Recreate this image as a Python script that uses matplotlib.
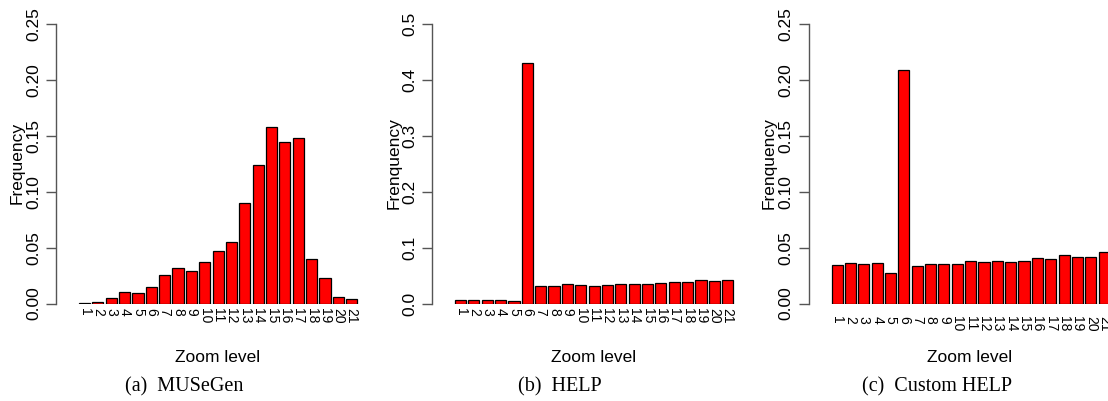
import matplotlib
matplotlib.use("Agg")
import matplotlib.pyplot as plt
import numpy as np

plt.rcParams['font.family'] = ['Liberation Sans', 'DejaVu Sans']

# zoom levels 1..21
levels = [str(i) for i in range(1, 22)]

# frequencies
musegen = [0.0005, 0.001, 0.0045, 0.010, 0.009, 0.0146, 0.0256, 0.0316, 0.0289,
           0.0372, 0.0468, 0.0554, 0.0903, 0.124, 0.158, 0.1445, 0.1478, 0.0396,
           0.0232, 0.0054, 0.0039]
help_freq = [0.006, 0.0054, 0.0054, 0.0054, 0.0042, 0.430, 0.032, 0.032, 0.035,
             0.0328, 0.032, 0.0334, 0.0346, 0.035, 0.0346, 0.037, 0.039, 0.038,
             0.0417, 0.0411, 0.0417]
custom_help = [0.0346, 0.0358, 0.0352, 0.0358, 0.0277, 0.2086, 0.0334, 0.0349,
               0.0349, 0.0355, 0.0381, 0.0375, 0.0384, 0.0375, 0.0381, 0.0411,
               0.0396, 0.0435, 0.042, 0.0414, 0.0465]

panels = [
    (musegen, "Frequency", np.arange(0, 0.2501, 0.05), "%.2f", "(a)  MUSeGen"),
    (help_freq, "Frenquency", np.arange(0, 0.501, 0.1), "%.1f", "(b)  HELP"),
    (custom_help, "Frenquency", np.arange(0, 0.2501, 0.05), "%.2f", "(c)  Custom HELP"),
]

W, H = 1108, 401
fig = plt.figure(figsize=(W / 100, H / 100), dpi=100)

bar_left_px = [79, 455, 831.5]
px_per_unit = 11.13
xl = (-1.85, 25.7)
ylab_x = [17.5, 394, 769.5]
zoom_x = [218, 594, 970]
cap_x = [184, 560, 937]
xtick_pad = [3, 3, 9]

# R barplot positions: width 1, space 0.2
centers = 0.7 + 1.2 * np.arange(21)

for k, (vals, ylab, yt, fmt, cap) in enumerate(panels):
    left_px = bar_left_px[k] - (0.2 - xl[0]) * px_per_unit
    width_px = (xl[1] - xl[0]) * px_per_unit
    ax = fig.add_axes([left_px / W, (H - 303.5) / H, width_px / W, 279.5 / H])
    ax.bar(centers, vals, width=1.0, color='#ff0000', edgecolor='black', linewidth=0.9)
    ax.set_xlim(*xl)
    ax.set_ylim(0, yt[-1])
    for s in ['top', 'right', 'bottom']:
        ax.spines[s].set_visible(False)
    ax.spines['left'].set_bounds(0, yt[-1])
    ax.spines['left'].set_color('#555555')
    ax.spines['left'].set_linewidth(1.0)
    ax.set_yticks(yt)
    ax.set_yticklabels([fmt % v for v in yt], rotation=90, va='center', fontsize=12.5)
    ax.tick_params(axis='y', length=7, width=1.0, color='#555555', pad=4)
    ax.set_xticks(centers)
    ax.set_xticklabels(levels, rotation=-90, fontsize=10, va='top', ha='center')
    ax.tick_params(axis='x', length=0, pad=xtick_pad[k])
    ax.patch.set_alpha(0)

    fig.text(ylab_x[k] / W, (H - 163) / H, ylab, rotation=90, ha='center', va='center', fontsize=12.5)
    fig.text(zoom_x[k] / W, (H - 357) / H, "Zoom level", ha='center', va='center', fontsize=12.5)
    fig.text(cap_x[k] / W, (H - 387) / H, cap, ha='center', va='center', fontsize=14.5,
             family=['Liberation Serif', 'DejaVu Serif'])

fig.savefig("out.png", dpi=100)
